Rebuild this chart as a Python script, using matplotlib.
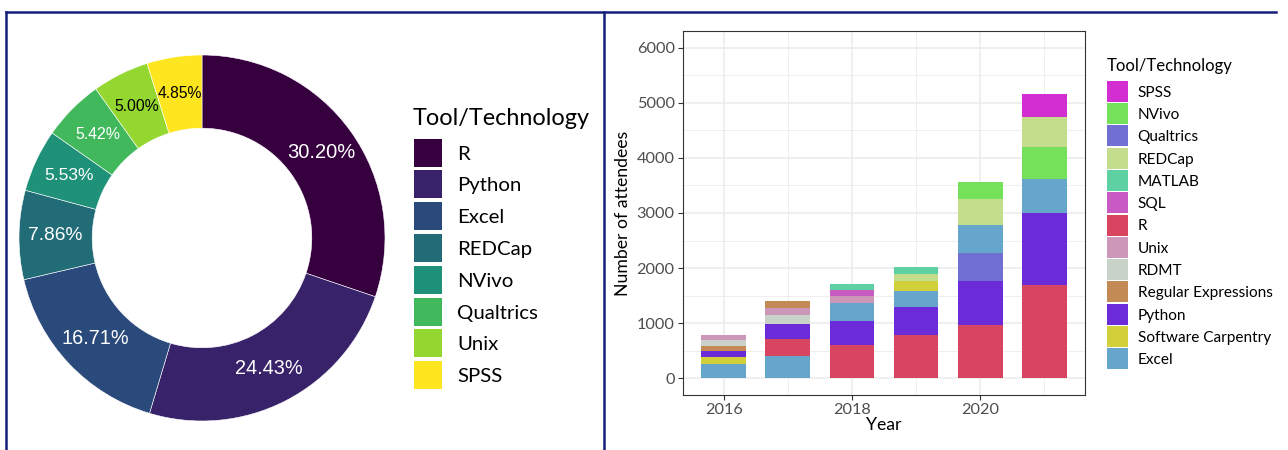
import matplotlib
matplotlib.use('Agg')
import matplotlib.pyplot as plt
from matplotlib.patches import Rectangle
from matplotlib.lines import Line2D
import numpy as np

W, H = 1288, 450

# donut: share of attendees by tool
pie_tools = ['R', 'Python', 'Excel', 'REDCap', 'NVivo', 'Qualtrics', 'Unix', 'SPSS']
pie_share = [30.20, 24.43, 16.71, 7.86, 5.53, 5.42, 5.00, 4.85]
pie_colors = ['#36003f', '#38226a', '#2a4a7b', '#226c78', '#1f9178', '#41b85c', '#93d730', '#fde620']
pie_text_size = [14.5, 14.3, 14.3, 13.8, 12.6, 11.4, 11.3, 11.3]
pie_text_color = ['white'] * 6 + ['black', 'black']

# stacked bars: attendees per year and tool (legend order, top to bottom)
years = [2016, 2017, 2018, 2019, 2020, 2021]
bar_tools = ['SPSS', 'NVivo', 'Qualtrics', 'REDCap', 'MATLAB', 'SQL', 'R', 'Unix',
             'RDMT', 'Regular Expressions', 'Python', 'Software Carpentry', 'Excel']
bar_colors = ['#d22ed2', '#75e15a', '#7070d2', '#c4dd8c', '#5dd1a2', '#c75bc3', '#d94560',
              '#cc97b8', '#c8d2c8', '#c48a55', '#6c2bd9', '#d1d03a', '#66a5cc']
attendees = {
    'SPSS':                [0, 0, 0, 0, 0, 425],
    'NVivo':               [0, 0, 0, 0, 301, 575],
    'Qualtrics':           [0, 0, 0, 0, 524, 0],
    'REDCap':              [0, 0, 0, 139, 464, 540],
    'MATLAB':              [0, 0, 102, 114, 0, 0],
    'SQL':                 [0, 0, 104, 0, 0, 0],
    'R':                   [0, 307, 602, 789, 976, 1687],
    'Unix':                [94, 135, 139, 0, 0, 0],
    'RDMT':                [96, 151, 0, 0, 0, 0],
    'Regular Expressions': [104, 131, 0, 0, 0, 0],
    'Python':              [108, 271, 446, 512, 783, 1319],
    'Software Carpentry':  [120, 0, 0, 169, 0, 0],
    'Excel':               [265, 416, 313, 289, 506, 612],
}

plt.rcParams['font.family'] = ['Lato', 'DejaVu Sans']

fig = plt.figure(figsize=(W / 100, H / 100), dpi=100)


def fx(x):
    return x / W


def fy(y):
    return 1 - y / H


# ---- left panel: donut ----
cx, cy, rad = 202, 238, 183
pie_ax = fig.add_axes([fx(cx - rad), fy(cy + rad), 2 * rad / W, 2 * rad / H])
wedges, _, autotexts = pie_ax.pie(pie_share, colors=pie_colors, startangle=90, counterclock=False,
                                  radius=1, autopct='%.2f%%', pctdistance=0.8,
                                  wedgeprops=dict(width=0.4, edgecolor='white', linewidth=0.4))
for t, s, c in zip(autotexts, pie_text_size, pie_text_color):
    t.set_fontsize(s)
    t.set_color(c)
    t.set_family(['Liberation Sans', 'DejaVu Sans'])
pie_ax.set_xlim(-1, 1)
pie_ax.set_ylim(-1, 1)
pie_ax.axis('off')

# left legend
fig.text(fx(413), fy(125), 'Tool/Technology', fontsize=16.9, va='baseline', ha='left')
for i, (name, col) in enumerate(zip(pie_tools, pie_colors)):
    yc = 152.5 + 31.8 * i
    fig.add_artist(Rectangle((fx(414), fy(yc + 14)), 28 / W, 28 / H, transform=fig.transFigure,
                             facecolor=col, edgecolor='none'))
    fig.text(fx(457), fy(yc), name, fontsize=14.7, va='center_baseline', ha='left')

# ---- right panel: stacked bars ----
ax = fig.add_axes([fx(683), fy(395), 402 / W, 364 / H])
for j, yr in enumerate(years):
    vals = [(attendees[t][j], t) for t in bar_tools if attendees[t][j] > 0]
    vals.sort(key=lambda v: -v[0])
    base = 0
    for v, t in vals:
        ax.bar(yr, v, bottom=base, width=0.7, color=bar_colors[bar_tools.index(t)], linewidth=0)
        base += v

ax.set_xlim(2015.365, 2021.635)
ax.set_ylim(-300, 6300)
ax.set_xticks([2016, 2018, 2020])
ax.set_xticks([2017, 2019, 2021], minor=True)
ax.set_yticks(range(0, 6001, 1000))
ax.set_yticks(range(500, 6000, 1000), minor=True)
ax.grid(True, which='major', color='#ebebeb', linewidth=1.1)
ax.grid(True, which='minor', color='#ebebeb', linewidth=0.55)
ax.set_axisbelow(True)
for sp in ax.spines.values():
    sp.set_color('#333333')
    sp.set_linewidth(0.8)
ax.tick_params(which='major', length=3.5, width=0.8, color='#333333', labelsize=11.7,
               labelcolor='#4d4d4d', pad=2.5)
ax.tick_params(which='minor', length=0)
ax.set_xlabel('Year', fontsize=12.7, labelpad=0)
ax.set_ylabel('Number of attendees', fontsize=12.7, labelpad=4)

# right legend
fig.text(fx(1107), fy(70.7), 'Tool/Technology', fontsize=12.0, va='baseline', ha='left')
for i, (name, col) in enumerate(zip(bar_tools, bar_colors)):
    yc = 91.2 + 22.3 * i
    fig.add_artist(Rectangle((fx(1107), fy(yc + 10.5)), 20.5 / W, 21 / H, transform=fig.transFigure,
                             facecolor=col, edgecolor='none'))
    fig.text(fx(1137.5), fy(yc), name, fontsize=11.1, va='center_baseline', ha='left')

# frame lines around the panels
navy = '#16207a'
for xs, ys in [([6, 1276], [12, 12]), ([6, 6], [12, 450]), ([604, 604], [12, 450])]:
    fig.add_artist(Line2D([fx(v) for v in xs], [fy(v) for v in ys], transform=fig.transFigure,
                          color=navy, linewidth=1.8))

fig.savefig('out.png', dpi=100)
